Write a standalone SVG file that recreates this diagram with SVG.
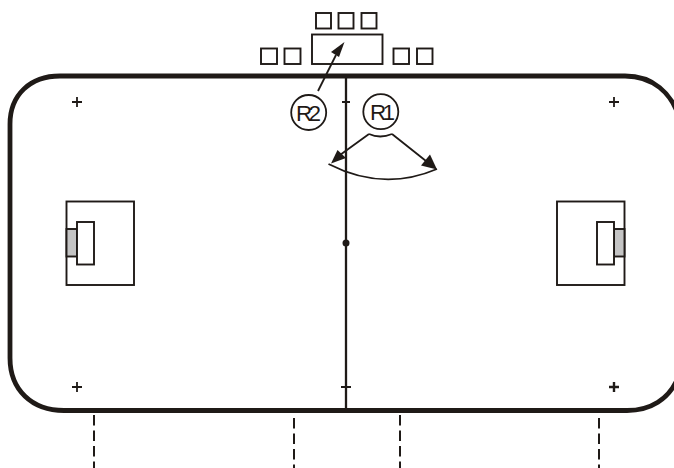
<svg xmlns="http://www.w3.org/2000/svg" width="674" height="468" viewBox="0 0 674 468">
<style>
.o{fill:none;stroke:#1f1a17;stroke-linecap:butt}
.b{fill:#fff;stroke:#1f1a17;stroke-width:1.900}
.g{fill:#c4c4c4;stroke:#1f1a17;stroke-width:1.900}
.d{fill:none;stroke:#1f1a17;stroke-width:2;stroke-dasharray:10.500 5}
.c{fill:none;stroke:#1f1a17;stroke-width:1.800}
.t{fill:#1f1a17;font-family:"Liberation Sans",Arial,sans-serif;font-size:22.500px;letter-spacing:-3.800px}
.a{fill:#1f1a17}
</style>
<rect width="674" height="468" fill="#fff"/>
<g id="frame">
<path class="o" stroke-width="4.800" d="M680 120C672 92 652 76 625 76H60C30 76 10 95 10 124V358C10 390 32 410.500 64 410.500H627C652 410.500 668 398 676 382"/>
<path class="o" stroke-width="2.300" d="M346 76V410"/>
<circle class="a" cx="346" cy="243" r="3.500"/>
</g>
<g id="marks">
<path class="c" d="M72 102H82M77 97V107M609 102H619M614 97V107M72 387H82M77 382V392M341 387H351M342 102H350"/>
<path fill="none" stroke="#1f1a17" stroke-width="2.400" d="M609 387H619M614 382V392"/>
</g>
<g id="top-boxes">
<rect class="b" x="316" y="13" width="15" height="15.500"/>
<rect class="b" x="338.500" y="13" width="15" height="15.500"/>
<rect class="b" x="361.500" y="13" width="15" height="15.500"/>
<rect class="b" x="312" y="34.500" width="70.500" height="29.500"/>
<rect class="b" x="261" y="48.500" width="16" height="15.500"/>
<rect class="b" x="284.500" y="48.500" width="16" height="15.500"/>
<rect class="b" x="393.500" y="48.500" width="15.500" height="15.500"/>
<rect class="b" x="417" y="48.500" width="15.500" height="15.500"/>
</g>
<g id="left-unit">
<rect class="b" x="66.500" y="201.500" width="67.500" height="83.500"/>
<rect class="g" x="66.500" y="229" width="10.500" height="27.500"/>
<rect class="b" x="77" y="222" width="17" height="42.500"/>
</g>
<g id="right-unit">
<rect class="b" x="557" y="201.500" width="67.500" height="83.500"/>
<rect class="g" x="614" y="229" width="10.500" height="27.500"/>
<rect class="b" x="597" y="222" width="17" height="42.500"/>
</g>
<g id="connectors">
<path class="c" d="M318 91L336 55"/>
<polygon class="a" points="344.500,42 339,57 331,52"/>
<path class="c" d="M369 134Q380 139 392 134M369 134L340 155M392 134L426 161M328.500 164Q383 192 437 169"/>
<polygon class="a" points="331,163.500 337.500,150 346,158"/>
<polygon class="a" points="437,169.500 421,165.500 430,154.500"/>
</g>
<g id="R2">
<circle cx="308.700" cy="112.500" r="17.500" fill="#fff" stroke="#1f1a17" stroke-width="1.800"/>
<text class="t" x="296" y="120.700">R2</text>
</g>
<g id="R1">
<circle cx="380.800" cy="111.700" r="17.500" fill="#fff" stroke="#1f1a17" stroke-width="1.800"/>
<text class="t" x="370" y="120.200">R1</text>
</g>
<g id="dashes">
<path class="d" d="M94 415V468"/>
<path class="d" d="M294 418V468"/>
<path class="d" d="M400 415V468"/>
<path class="d" d="M599 418V468"/>
</g>
</svg>
